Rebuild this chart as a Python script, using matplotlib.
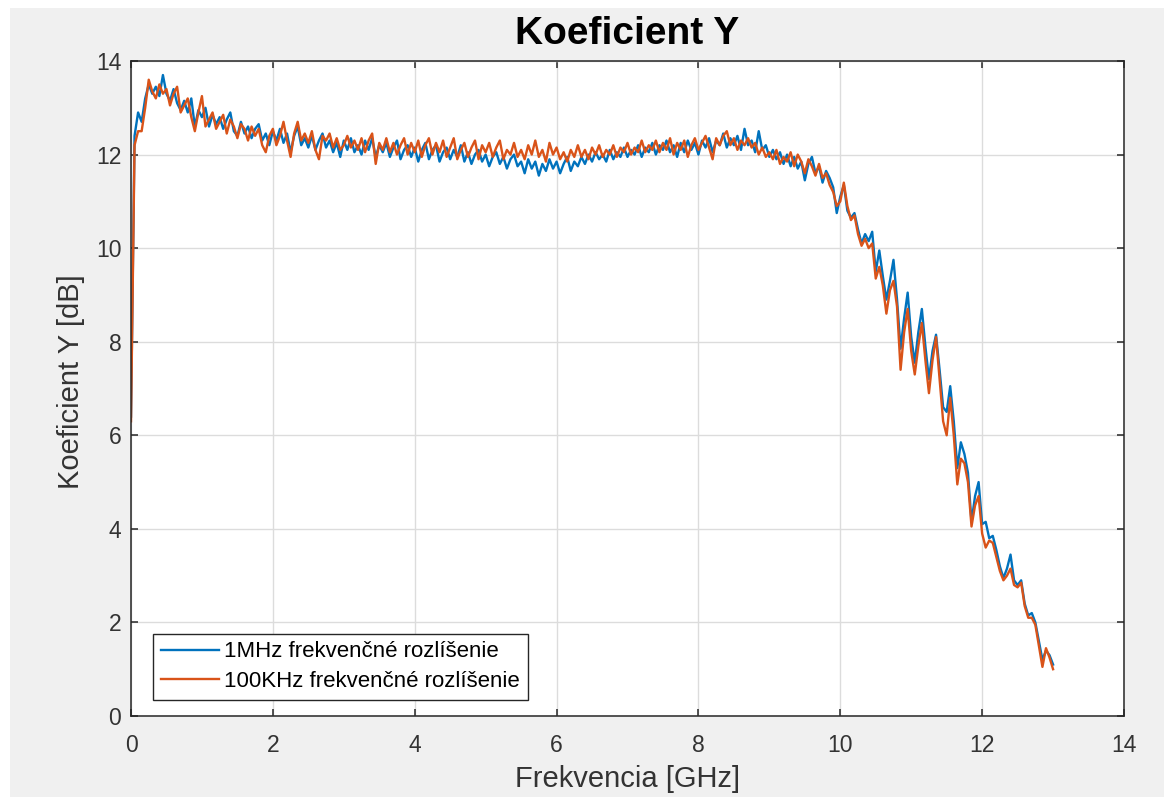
import numpy as np
import matplotlib
matplotlib.use("Agg")
import matplotlib.pyplot as plt
from matplotlib.patches import Rectangle

plt.rcParams['font.family'] = ['Liberation Sans', 'DejaVu Sans']

# frequency grid [GHz], 0.05 GHz step from 0 to 13
freq = np.round(np.arange(0, 261) * 0.05, 2)

# 1MHz resolution series [dB]
y_1mhz = [
    6.4, 12.4, 12.9, 12.7, 13.2, 13.5, 13.3, 13.45, 13.25, 13.7, 13.3, 13.15, 13.4, 13.1, 12.95, 13.15, 12.9, 13.2, 12.6, 12.95,
    12.8, 13.0, 12.6, 12.85, 12.65, 12.8, 12.55, 12.75, 12.9, 12.5, 12.4, 12.7, 12.45, 12.6, 12.35, 12.55, 12.65, 12.3, 12.45, 12.2,
    12.5, 12.3, 12.55, 12.25, 12.45, 12.05, 12.4, 12.6, 12.2, 12.35, 12.15, 12.4, 12.1, 12.3, 12.45, 12.15, 12.3, 12.05, 12.25, 11.95,
    12.3, 12.1, 12.35, 12.05, 12.2, 12.0, 12.3, 12.1, 12.35, 11.95, 12.2, 12.05, 12.25, 11.95, 12.15, 12.3, 11.9, 12.1, 12.2, 11.95,
    12.15, 11.85, 12.1, 12.25, 11.9, 12.1, 12.2, 11.85, 12.05, 12.15, 11.9, 12.1, 11.95, 12.2, 11.85, 12.05, 11.8, 12.0, 12.1, 11.85,
    12.0, 11.75, 11.95, 12.05, 11.8, 11.95, 11.7, 11.9, 12.0, 11.75, 11.85, 11.6, 11.9, 11.7, 11.85, 11.55, 11.8, 11.65, 11.9, 11.7,
    11.85, 11.6, 11.8, 11.95, 11.65, 11.85, 11.75, 11.95, 11.8, 12.0, 11.85, 12.05, 11.9, 12.0, 11.85, 12.1, 11.9, 12.05, 11.95, 12.15,
    11.95, 12.1, 12.0, 12.2, 11.95, 12.15, 12.05, 12.25, 12.0, 12.2, 12.1, 12.3, 12.05, 12.2, 11.95, 12.25, 12.05, 12.3, 12.1, 12.25,
    12.0, 12.3, 12.15, 12.35, 12.05, 12.3, 12.2, 12.45, 12.15, 12.35, 12.2, 12.4, 12.1, 12.55, 12.2, 12.3, 12.05, 12.5, 12.1, 12.2,
    11.95, 12.1, 11.9, 12.05, 11.8, 12.0, 11.75, 11.95, 11.7, 11.85, 11.45, 11.8, 11.95, 11.6, 11.75, 11.4, 11.65, 11.5, 11.3, 10.75,
    11.1, 11.35, 10.8, 10.65, 10.75, 10.4, 10.1, 10.3, 10.15, 10.35, 9.5, 9.95, 9.4, 8.9, 9.3, 9.75, 8.9, 7.85, 8.5, 9.05,
    8.1, 7.55, 8.2, 8.7, 7.9, 7.2, 7.8, 8.15, 7.4, 6.6, 6.5, 7.05, 6.3, 5.3, 5.85, 5.6, 5.2, 4.15, 4.7, 5.0,
    4.1, 4.15, 3.8, 3.85, 3.55, 3.2, 2.95, 3.15, 3.45, 2.9, 2.8, 2.9, 2.4, 2.15, 2.2, 2.0, 1.6, 1.2, 1.4, 1.3,
    1.1,
]

# 100KHz resolution series [dB]
y_100khz = [
    6.3, 12.2, 12.5, 12.5, 13.0, 13.6, 13.35, 13.2, 13.5, 13.3, 13.4, 13.05, 13.3, 13.45, 12.9, 13.05, 13.2, 12.8, 12.5, 12.9,
    13.25, 12.6, 12.75, 12.9, 12.55, 12.7, 12.85, 12.45, 12.75, 12.6, 12.35, 12.65, 12.55, 12.3, 12.6, 12.4, 12.55, 12.2, 12.05, 12.4,
    12.55, 12.2, 12.4, 12.7, 12.3, 11.95, 12.45, 12.7, 12.3, 12.45, 12.25, 12.5, 12.1, 11.9, 12.4, 12.3, 12.45, 12.15, 12.35, 12.1,
    12.2, 12.4, 12.15, 12.3, 12.1, 12.35, 12.05, 12.3, 12.45, 11.8, 12.25, 12.1, 12.35, 12.05, 12.25, 12.0, 12.2, 12.35, 12.0, 12.25,
    12.05, 12.3, 11.95, 12.2, 12.35, 12.0, 12.25, 12.05, 12.3, 11.95, 12.15, 12.35, 11.9, 12.1, 12.25, 11.95, 12.15, 12.3, 11.9, 12.2,
    12.05, 12.25, 11.95, 12.15, 12.3, 11.9, 12.1, 12.0, 12.25, 11.95, 12.1, 11.9, 12.2, 12.0, 12.3, 11.95, 12.1, 11.85, 12.25, 12.0,
    12.15, 11.9, 12.05, 11.85, 12.1, 11.95, 12.2, 11.95, 12.1, 11.9, 12.15, 12.0, 12.2, 11.95, 12.1, 12.0, 12.2, 11.95, 12.15, 12.05,
    12.25, 12.0, 12.15, 12.05, 12.3, 12.05, 12.2, 12.1, 12.3, 12.05, 12.25, 12.1, 12.35, 12.0, 12.25, 12.1, 12.3, 11.95, 12.2, 12.35,
    12.1, 12.25, 12.4, 12.15, 11.9, 12.35, 12.2, 12.4, 12.5, 12.2, 12.35, 12.1, 12.3, 12.2, 12.35, 12.15, 12.25, 12.0, 12.15, 11.95,
    12.05, 11.9, 12.1, 11.8, 11.95, 11.85, 12.05, 11.75, 12.0, 11.85, 11.6, 11.9, 11.75, 11.55, 11.8, 11.5, 11.6, 11.35, 11.2, 10.9,
    11.0, 11.4, 10.9, 10.6, 10.7, 10.3, 10.05, 10.2, 10.0, 10.1, 9.35, 9.6, 9.2, 8.6, 9.1, 9.3, 8.75, 7.4, 8.2, 8.7,
    7.8, 7.3, 7.9, 8.4, 7.6, 6.9, 7.6, 8.1, 7.2, 6.3, 6.0, 6.8, 6.0, 4.95, 5.5, 5.4, 5.0, 4.05, 4.5, 4.7,
    3.9, 3.6, 3.75, 3.7, 3.4, 3.1, 2.9, 3.0, 3.15, 2.8, 2.75, 2.85, 2.35, 2.1, 2.1, 1.95, 1.5, 1.05, 1.45, 1.25,
    1.0,
]

labels = ["1MHz frekvenčné rozlíšenie", "100KHz frekvenčné rozlíšenie"]
title = "Koeficient Y"
xlabel = "Frekvencia [GHz]"
ylabel = "Koeficient Y [dB]"
xticks = [0, 2, 4, 6, 8, 10, 12, 14]
yticks = [0, 2, 4, 6, 8, 10, 12, 14]

W, H = 1164, 797
fig = plt.figure(figsize=(W / 100, H / 100), dpi=100, facecolor='white')
fig.patches.append(Rectangle((10 / W, 0), 1, 1 - 8 / H, transform=fig.transFigure,
                             facecolor='#f0f0f0', edgecolor='none', zorder=-10))

ax = fig.add_axes([131 / W, (H - 716) / H, (1124 - 131) / W, (716 - 61) / H])
ax.set_facecolor('white')

ax.plot(freq, y_1mhz, color='#0072BD', lw=1.7, label=labels[0])
ax.plot(freq, y_100khz, color='#D95319', lw=1.7, label=labels[1])

ax.set_xlim(0, 14)
ax.set_ylim(0, 14)
ax.set_xticks(xticks)
ax.set_yticks(yticks)
ax.grid(True, color='#dcdcdc', lw=1.0)
ax.set_axisbelow(True)

for s in ax.spines.values():
    s.set_color('#262626')
    s.set_linewidth(1.1)

ax.tick_params(axis='both', direction='in', length=5, width=1.1, color='#262626',
               labelcolor='#333333', labelsize=16.5, top=True, right=True)
ax.tick_params(axis='x', pad=13)
ax.tick_params(axis='y', pad=7)

ax.set_title(title, fontsize=28, fontweight='bold', pad=12, color='black')
ax.set_xlabel(xlabel, fontsize=21, color='#333333')
ax.set_ylabel(ylabel, fontsize=21, color='#333333')
ax.xaxis.set_label_coords(0.5, -0.075)
ax.yaxis.set_label_coords(-0.046, 0.51)

leg = ax.legend(loc='lower left', bbox_to_anchor=(22 / 993, 16 / 655), borderaxespad=0,
                fontsize=16, frameon=True, fancybox=False, framealpha=1,
                edgecolor='#262626', handlelength=2.6, handletextpad=0.25,
                labelspacing=0.4, borderpad=0.35)
leg.get_frame().set_linewidth(1.0)
for t in leg.get_texts():
    t.set_color('black')

fig.savefig('out.png', dpi=100, facecolor=fig.get_facecolor())
